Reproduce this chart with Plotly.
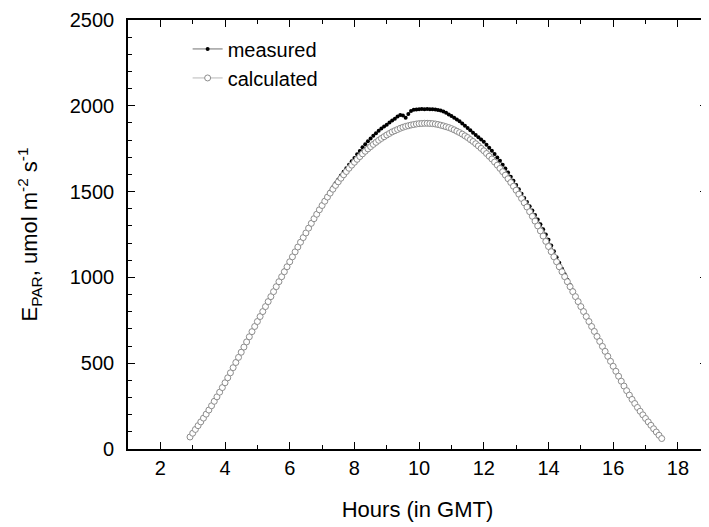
import plotly.graph_objects as go

# time grid: 5-minute samples from 02:55 to 17:30 GMT (hours)
start_minute = 175
step_minute = 5
n_points = 176
hours = [(start_minute + step_minute * i) / 60 for i in range(n_points)]

calculated = [
    70, 92, 114, 136, 158, 180, 203, 227, 252, 278,
    304, 331, 358, 386, 415, 444, 474, 504, 534, 564,
    594, 624, 654, 684, 714, 743, 772, 801, 830, 859,
    888, 917, 946, 975, 1004, 1033, 1062, 1091, 1120, 1149,
    1177, 1205, 1232, 1259, 1287, 1315, 1342, 1368, 1394, 1419,
    1444, 1468, 1491, 1514, 1536, 1557, 1578, 1598, 1617, 1636,
    1654, 1671, 1688, 1704, 1720, 1735, 1749, 1762, 1775, 1787,
    1799, 1810, 1820, 1830, 1839, 1848, 1855, 1862, 1869, 1875,
    1880, 1884, 1888, 1891, 1894, 1896, 1897, 1898,
    1898, 1897, 1896, 1894, 1891, 1887, 1883, 1878, 1873, 1867,
    1860, 1852, 1844, 1835, 1825, 1815, 1803, 1792, 1779, 1766,
    1752, 1738, 1722, 1706, 1690, 1672, 1654, 1635, 1616, 1596,
    1575, 1553, 1531, 1508, 1485, 1460, 1435, 1410, 1383, 1356,
    1328, 1300, 1271, 1241, 1210, 1180, 1150, 1120, 1091, 1062,
    1033, 1004, 975, 946, 917, 888, 859, 830, 801, 772,
    743, 714, 685, 656, 627, 598, 569, 540, 511, 482,
    453, 424, 395, 367, 340, 314, 289, 265, 242, 220,
    199, 178, 158, 138, 118, 99, 80, 61,
]

measured = [
    70, 93, 113, 137, 158, 181, 202, 228, 251, 279,
    304, 332, 356, 388, 414, 446, 472, 510, 533, 566,
    593, 627, 652, 686, 712, 746, 770, 795, 832, 857,
    890, 915, 949, 973, 1007, 1040, 1060, 1094, 1118, 1152,
    1175, 1208, 1230, 1261, 1288, 1317, 1345, 1372, 1399, 1425,
    1451, 1476, 1500, 1525, 1548, 1571, 1594, 1615, 1636, 1657,
    1677, 1696, 1717, 1737, 1758, 1776, 1794, 1810, 1825, 1840,
    1854, 1867, 1879, 1890, 1902, 1914, 1925, 1937, 1947, 1944,
    1930, 1952, 1970, 1977, 1979, 1980, 1981, 1980,
    1981, 1980, 1980, 1979, 1976, 1972, 1967, 1959, 1950, 1940,
    1930, 1920, 1910, 1897, 1884, 1870, 1857, 1843, 1830, 1817,
    1803, 1790, 1773, 1755, 1738, 1719, 1699, 1680, 1657, 1635,
    1612, 1587, 1563, 1538, 1513, 1487, 1462, 1439, 1415, 1390,
    1363, 1337, 1310, 1280, 1250, 1220, 1186, 1152, 1118, 1085,
    1051, 1018, 986, 955, 923, 892, 861, 830, 806, 770,
    748, 712, 688, 654, 630, 596, 572, 538, 514, 480,
    456, 422, 397, 365, 342, 312, 291, 263, 244, 218,
    201, 176, 160, 136, 120, 97, 81, 60,
]

x_tick_values = [2, 4, 6, 8, 10, 12, 14, 16, 18]
y_tick_values = [0, 500, 1000, 1500, 2000, 2500]

FONT = "Liberation Sans, Arial, sans-serif"

fig = go.Figure()
fig.add_trace(go.Scatter(
    x=hours, y=measured, name="measured", mode="lines+markers",
    line=dict(color="#333333", width=0.7),
    marker=dict(symbol="circle", size=4, color="black"),
    legendgroup="m",
))
fig.add_trace(go.Scatter(
    x=hours, y=calculated, name="calculated", mode="lines+markers",
    line=dict(color="#999999", width=0.7),
    marker=dict(symbol="circle", size=6, color="white",
                line=dict(color="#8c8c8c", width=1)),
    legendgroup="c",
))

axis_common = dict(
    showline=True, linecolor="black", linewidth=1.6, mirror="allticks",
    ticks="inside", ticklen=7, tickwidth=1.4, tickcolor="black",
    showgrid=False, zeroline=False,
    tickfont=dict(family=FONT, size=20, color="black"),
)

fig.update_xaxes(
    range=[1, 18.9], tickvals=x_tick_values,
    minor=dict(dtick=1, ticks="inside", ticklen=4, tickwidth=1, tickcolor="black"),
    title=dict(text="Hours (in GMT)", font=dict(family=FONT, size=22, color="black"), standoff=24),
    **axis_common,
)
fig.update_yaxes(
    range=[0, 2500], tickvals=y_tick_values,
    ticklabelstandoff=8,
    minor=dict(dtick=100, ticks="inside", ticklen=4, tickwidth=1, tickcolor="black"),
    title=dict(text="E<sub>PAR</sub>, umol m<sup>-2</sup> s<sup>-1</sup>",
               font=dict(family=FONT, size=22, color="black"), standoff=26),
    **axis_common,
)

# page body keeps an 8 px default margin, so the figure is offset by 8 px
fig.update_layout(
    width=701, height=519,
    margin=dict(l=120, r=0, t=12, b=78),
    paper_bgcolor="white", plot_bgcolor="white",
    showlegend=True,
    legend=dict(x=0.103, y=0.978, xanchor="left", yanchor="top",
                bgcolor="rgba(0,0,0,0)", tracegroupgap=0,
                font=dict(family=FONT, size=20, color="black")),
)

fig.write_html("out.html")
